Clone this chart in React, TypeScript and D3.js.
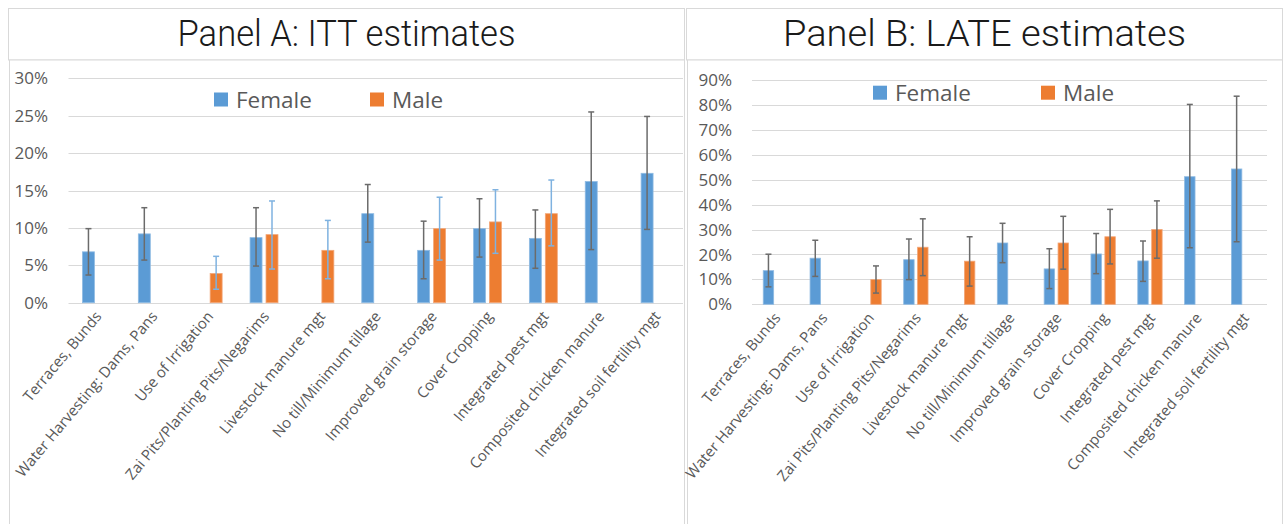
import React from "react";
import * as d3 from "d3";

const categories = [
  "Terraces, Bunds",
  "Water Harvesting: Dams, Pans",
  "Use of Irrigation",
  "Zai Pits/Planting Pits/Negarims",
  "Livestock manure mgt",
  "No till/Minimum tillage",
  "Improved grain storage",
  "Cover Cropping",
  "Integrated pest mgt",
  "Composited chicken manure",
  "Integrated soil fertility mgt",
];
const seriesNames = ["Female", "Male"];

const ittFemale = [6.8, 9.2, null, 8.7, null, 11.9, 7.0, 9.9, 8.6, 16.2, 17.3];
const ittFemaleHi = [9.9, 12.7, null, 12.7, null, 15.8, 10.9, 13.9, 12.4, 25.5, 24.9];
const ittFemaleLo = [3.7, 5.7, null, 4.9, null, 8.1, 3.2, 6.1, 4.6, 7.1, 9.8];
const ittMale = [null, null, 3.9, 9.1, 7.0, null, 9.9, 10.8, 11.9, null, null];
const ittMaleHi = [null, null, 6.2, 13.6, 11.0, null, 14.1, 15.1, 16.4, null, null];
const ittMaleLo = [null, null, 1.8, 4.5, 3.2, null, 5.7, 6.6, 7.6, null, null];

const lateFemale = [13.5, 18.5, null, 17.9, null, 24.6, 14.2, 20.2, 17.4, 51.2, 54.3];
const lateFemaleHi = [20.1, 25.7, null, 26.2, null, 32.5, 22.3, 28.4, 25.4, 80.2, 83.5];
const lateFemaleLo = [7.0, 11.2, null, 9.9, null, 16.7, 6.3, 12.3, 9.2, 22.7, 25.1];
const lateMale = [null, null, 9.9, 22.9, 17.3, null, 24.6, 27.1, 30.0, null, null];
const lateMaleHi = [null, null, 15.4, 34.3, 27.1, null, 35.3, 38.1, 41.5, null, null];
const lateMaleLo = [null, null, 4.5, 11.5, 7.3, null, 14.1, 16.2, 18.5, null, null];

const ittTicks = [0, 5, 10, 15, 20, 25, 30];
const lateTicks = [0, 10, 20, 30, 40, 50, 60, 70, 80, 90];

const COLORS = ["#5B9BD5", "#ED7D31"];
const STROKES = ["#8fbbe3", "#f3a677"];
const GRID = "#D9D9D9";
const TEXT = "#595959";
const FONT = "'Open Sans', 'DejaVu Sans', sans-serif";
const TITLE_FONT = "Roboto, 'Liberation Sans', sans-serif";

type Cfg = {
  title: string;
  titleLen: number;
  boxX: number;
  boxW: number;
  plotX0: number;
  plotX1: number;
  yZero: number;
  yTopPx: number;
  yMax: number;
  ticks: number[];
  tickRight: number;
  padding: number;
  capW: number;
  series: { v: (number | null)[]; hi: (number | null)[]; lo: (number | null)[]; err: string }[];
  legend: { sq: number; ty: number; next: number };
};

function Panel({ c }: { c: Cfg }) {
  const x = d3.scaleBand<string>().domain(categories).range([c.plotX0, c.plotX1]).paddingInner(c.padding).paddingOuter(c.padding / 2);
  const xi = d3.scaleBand<string>().domain(seriesNames).range([0, x.bandwidth()]).paddingInner(0.25);
  const y = d3.scaleLinear().domain([0, c.yMax]).range([c.yZero, c.yTopPx]);
  const titleCx = c.boxX + c.boxW / 2;
  return (
    <g>
      <rect x={c.boxX} y={8.5} width={c.boxW} height={51.5} fill="#fff" stroke={GRID} strokeWidth={1} />
      <rect x={c.boxX + 1} y={60} width={c.boxW - 1} height={480} fill="#fff" stroke={GRID} strokeWidth={1} />
      <text x={titleCx} y={46} textAnchor="middle" fontFamily={TITLE_FONT} fontWeight={300} fontSize={37} fill="#1a1a1a" textLength={c.titleLen} lengthAdjust="spacingAndGlyphs">
        {c.title}
      </text>
      {c.ticks.map((t) => (
        <g key={t}>
          <line x1={c.plotX0} x2={c.plotX1} y1={Math.round(y(t)) + 0.5} y2={Math.round(y(t)) + 0.5} stroke={GRID} strokeWidth={1} />
          <text x={c.tickRight} y={y(t)} dy="0.36em" textAnchor="end" fontFamily={FONT} fontSize={17} fill={TEXT}>
            {t}%
          </text>
        </g>
      ))}
      {c.series.map((s, si) =>
        categories.map((cat, i) => {
          const v = s.v[i];
          if (v == null) return null;
          const bx = (x(cat) as number) + (xi(seriesNames[si]) as number);
          const bw = xi.bandwidth();
          const cx = bx + bw / 2;
          const hi = s.hi[i] as number;
          const lo = s.lo[i] as number;
          return (
            <g key={cat + si}>
              <rect x={bx} y={y(v)} width={bw} height={y(0) - y(v)} fill={COLORS[si]} stroke={STROKES[si]} strokeWidth={0.8} />
              <line x1={cx} x2={cx} y1={y(hi)} y2={y(lo)} stroke={s.err} strokeWidth={1.5} />
              <line x1={cx - c.capW / 2} x2={cx + c.capW / 2} y1={y(hi)} y2={y(hi)} stroke={s.err} strokeWidth={1.5} />
              <line x1={cx - c.capW / 2} x2={cx + c.capW / 2} y1={y(lo)} y2={y(lo)} stroke={s.err} strokeWidth={1.5} />
            </g>
          );
        })
      )}
      {categories.map((cat) => {
        const cx = (x(cat) as number) + x.bandwidth() / 2;
        return (
          <text key={cat} transform={`translate(${cx + 6},${y(0) + 14}) rotate(-50)`} textAnchor="end" fontFamily={FONT} fontSize={15} fill={TEXT}>
            {cat}
          </text>
        );
      })}
      {seriesNames.map((n, i) => {
        const sx = c.legend.sq + i * c.legend.next;
        return (
          <g key={n}>
            <rect x={sx} y={c.legend.ty - 7} width={14} height={14} fill={COLORS[i]} />
            <text x={sx + 22} y={c.legend.ty} dy="0.36em" fontFamily={FONT} fontSize={22.5} fill={TEXT}>
              {n}
            </text>
          </g>
        );
      })}
    </g>
  );
}

export default function App() {
  const A: Cfg = {
    title: "Panel A: ITT estimates",
    titleLen: 338,
    boxX: 8.5,
    boxW: 676,
    plotX0: 68.5,
    plotX1: 683,
    yZero: 302.7,
    yTopPx: 78.3,
    yMax: 30,
    ticks: ittTicks,
    tickRight: 48,
    padding: 0.5,
    capW: 6,
    series: [
      { v: ittFemale, hi: ittFemaleHi, lo: ittFemaleLo, err: "#6b6b6b" },
      { v: ittMale, hi: ittMaleHi, lo: ittMaleLo, err: "#7fb2e0" },
    ],
    legend: { sq: 214, ty: 99.5, next: 156 },
  };
  const B: Cfg = {
    title: "Panel B: LATE estimates",
    titleLen: 403,
    boxX: 686.5,
    boxW: 596,
    plotX0: 752,
    plotX1: 1267,
    yZero: 304.3,
    yTopPx: 80,
    yMax: 90,
    ticks: lateTicks,
    tickRight: 732,
    padding: 0.48,
    capW: 6,
    series: [
      { v: lateFemale, hi: lateFemaleHi, lo: lateFemaleLo, err: "#6b6b6b" },
      { v: lateMale, hi: lateMaleHi, lo: lateMaleLo, err: "#6b6b6b" },
    ],
    legend: { sq: 873, ty: 92.7, next: 168 },
  };
  return (
    <svg width={1283} height={524} style={{ position: "absolute", left: 0, top: 0, background: "#fff" }}>
      <rect x={0} y={0} width={1283} height={524} fill="#fff" />
      <Panel c={A} />
      <Panel c={B} />
    </svg>
  );
}
